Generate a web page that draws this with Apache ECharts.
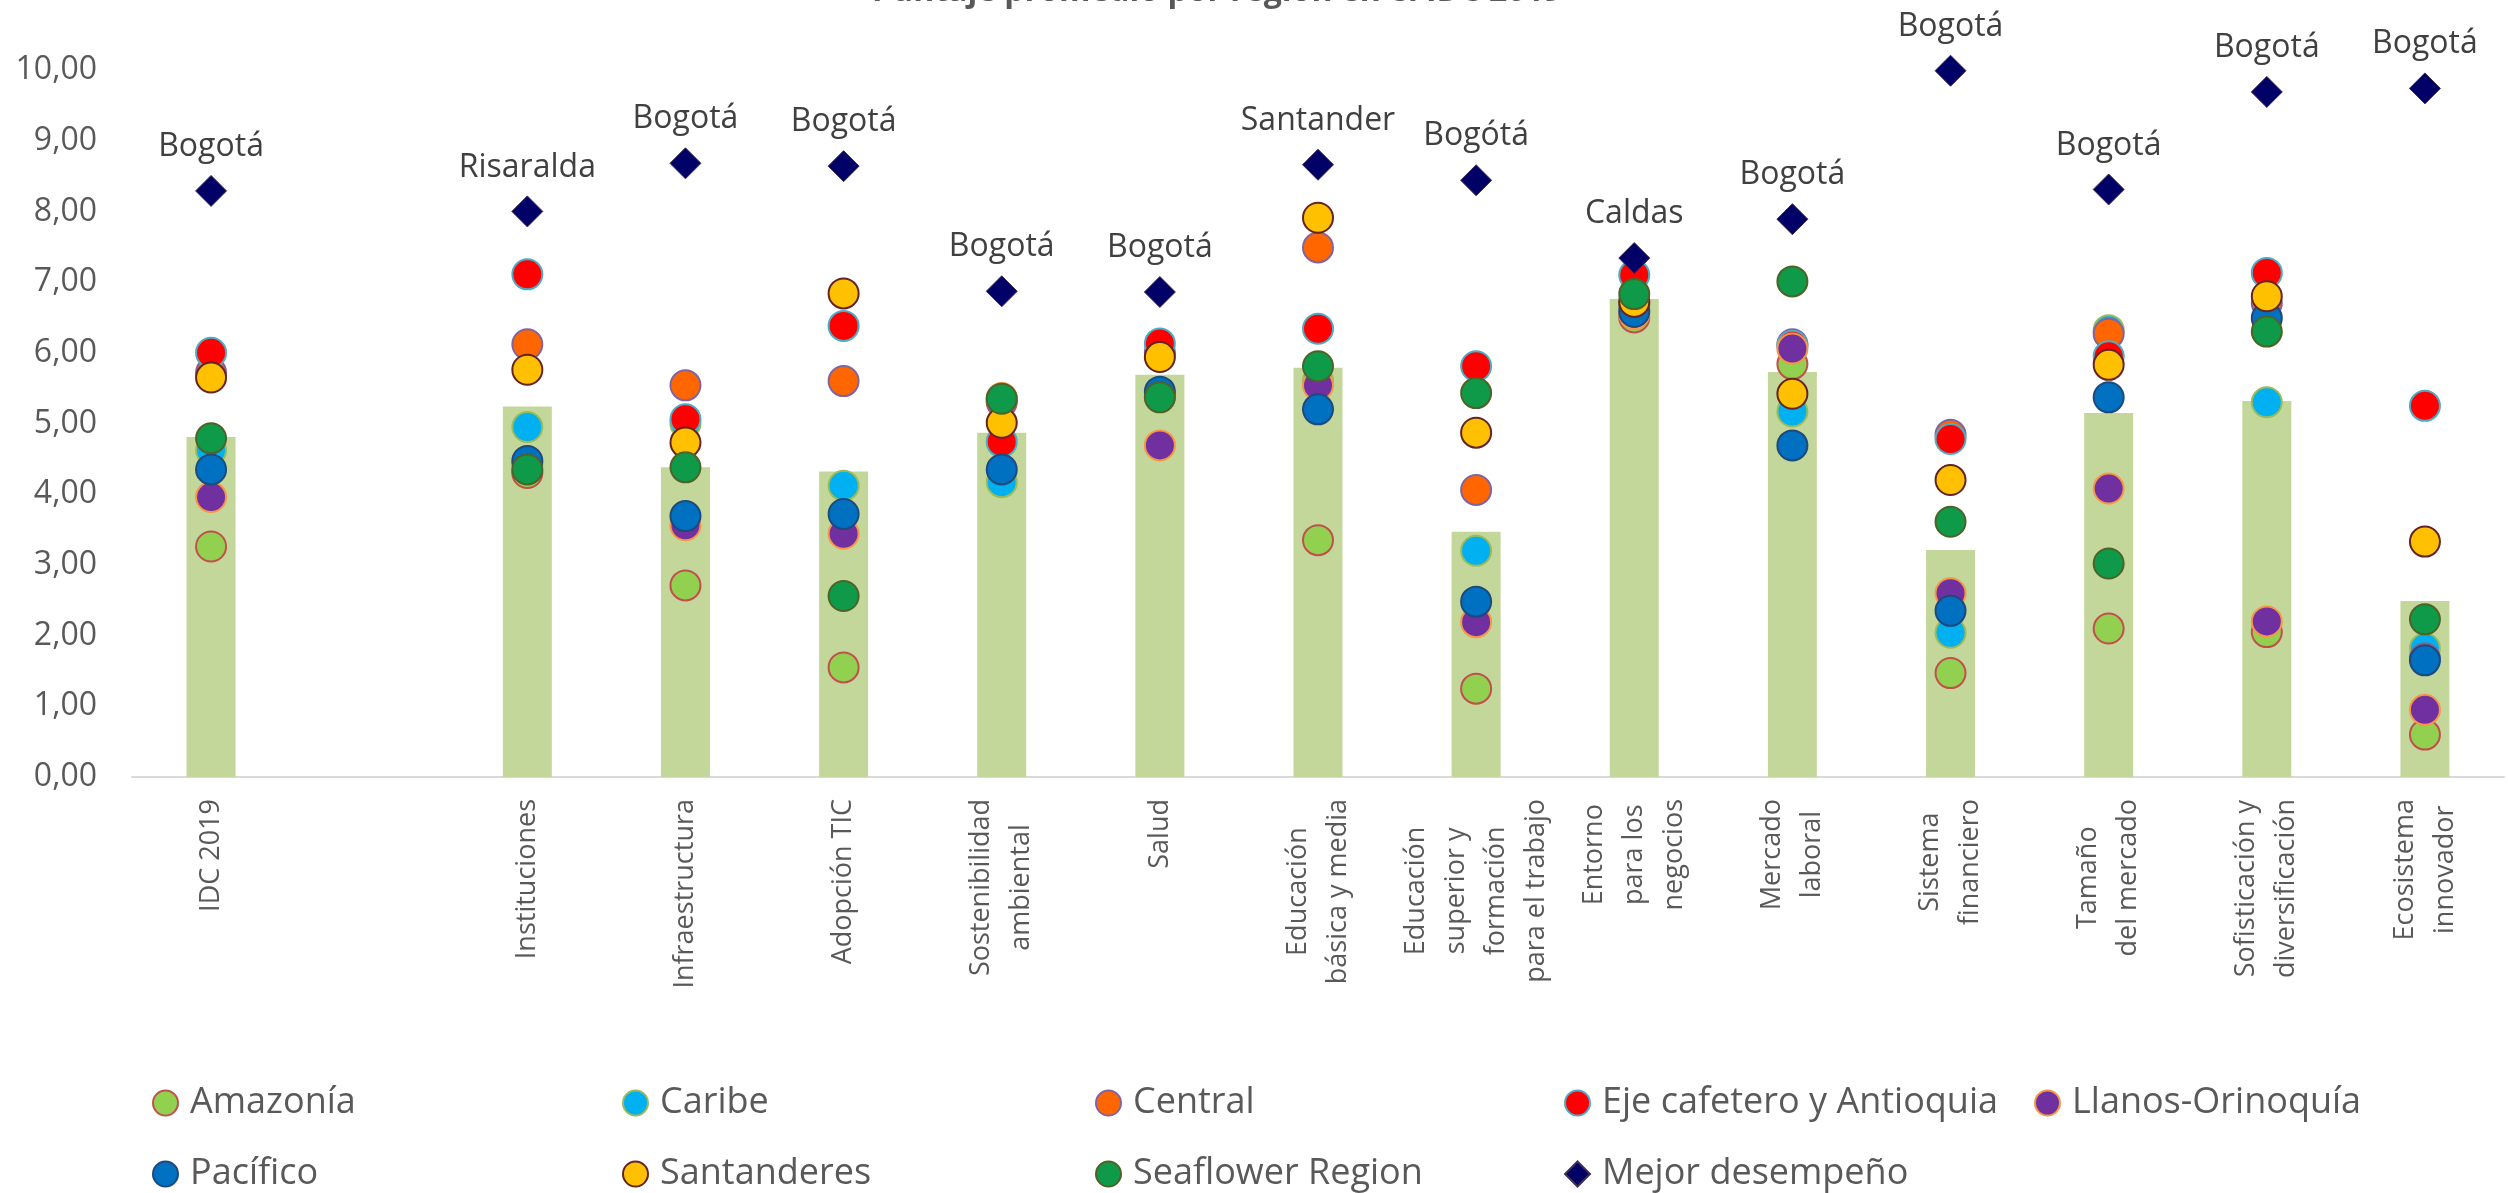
<!DOCTYPE html>
<html>
<head>
<meta charset="utf-8">
<script src="https://cdn.jsdelivr.net/npm/echarts@6/dist/echarts.min.js"></script>
<style>
  html, body { margin: 0; padding: 0; background: #fff; }
  #chart_idc { width: 2508px; height: 1193px; }
</style>
</head>
<body>
<div id="chart_idc"></div>
<script>
var categorias = ['IDC 2019', '', 'Instituciones', 'Infraestructura', 'Adopción TIC',
  'Sostenibilidad\nambiental', 'Salud', 'Educación\nbásica y media',
  'Educación\nsuperior y\nformación\npara el trabajo', 'Entorno\npara los\nnegocios',
  'Mercado\nlaboral', 'Sistema\nfinanciero', 'Tamaño\ndel mercado',
  'Sofisticación y\ndiversificación', 'Ecosistema\ninnovador'];

// promedio nacional (barras)
var promedio    = [4.81, '-', 5.24, 4.38, 4.32, 4.87, 5.69, 5.79, 3.47, 6.76, 5.73, 3.21, 5.15, 5.32, 2.49];

var amazonia    = [3.26, '-', 4.30, 2.71, 1.55, 5.30, 5.38, 3.35, 1.25, 6.50, 5.84, 1.47, 2.10, 2.05, 0.60];
var caribe      = [4.62, '-', 4.95, 5.00, 4.12, 4.17, 5.42, 5.60, 3.20, 6.62, 5.17, 2.04, 6.32, 5.30, 1.82];
var central     = [5.72, '-', 6.12, 5.54, 5.60, 5.33, 6.00, 7.49, 4.06, 6.68, 6.12, 4.84, 6.27, 6.70, 1.68];
var ejeCafetero = [6.00, '-', 7.11, 5.06, 6.38, 4.74, 6.13, 6.34, 5.81, 7.10, 6.10, 4.78, 5.95, 7.13, 5.25];
var llanos      = [3.96, '-', 4.42, 3.56, 3.44, 5.36, 4.69, 5.54, 2.19, 6.55, 6.06, 2.60, 4.08, 2.20, 0.95];
var pacifico    = [4.35, '-', 4.47, 3.69, 3.72, 4.35, 5.45, 5.20, 2.48, 6.58, 4.69, 2.35, 5.37, 6.49, 1.65];
var santanderes = [5.65, '-', 5.76, 4.73, 6.84, 5.01, 5.94, 7.91, 4.87, 6.72, 5.42, 4.20, 5.83, 6.80, 3.33];
var seaflower   = [4.79, '-', 4.35, 4.38, 2.56, 5.35, 5.37, 5.81, 5.43, 6.83, 7.01, 3.61, 3.02, 6.30, 2.23];

var mejor       = [8.29, '-', 8.00, 8.68, 8.64, 6.87, 6.86, 8.66, 8.44, 7.34, 7.89, 9.99, 8.31, 9.69, 9.74];
var mejorDepto  = ['Bogotá', '', 'Risaralda', 'Bogotá', 'Bogotá', 'Bogotá', 'Bogotá', 'Santander',
  'Bogótá', 'Caldas', 'Bogotá', 'Bogotá', 'Bogotá', 'Bogotá', 'Bogotá'];

var yTicks = [0, 10, 1];

var fuente = "'Open Sans', 'Noto Sans', sans-serif";
var gris = '#595959';

var regiones = [
  { name: 'Amazonía', data: amazonia, fill: '#92D050', borde: '#C0504D' },
  { name: 'Caribe', data: caribe, fill: '#00B0F0', borde: '#9BBB59' },
  { name: 'Central', data: central, fill: '#FF6600', borde: '#8064A2' },
  { name: 'Eje cafetero y Antioquia', data: ejeCafetero, fill: '#FF0000', borde: '#4BACC6' },
  { name: 'Llanos-Orinoquía', data: llanos, fill: '#7030A0', borde: '#F79646' },
  { name: 'Pacífico', data: pacifico, fill: '#0070C0', borde: '#1F497D' },
  { name: 'Santanderes', data: santanderes, fill: '#FFC000', borde: '#632523' },
  { name: 'Seaflower Region', data: seaflower, fill: '#0E9A48', borde: '#4F6228' }
];

var myChartIDC = echarts.init(document.getElementById('chart_idc'));

function pintarIDC(myChart) {
  var series = [{
    name: 'Promedio',
    type: 'bar',
    barWidth: 49,
    itemStyle: { color: '#C4D79B' },
    data: promedio,
    z: 1
  }];

  regiones.forEach(function (r) {
    series.push({
      name: r.name,
      type: 'scatter',
      symbol: 'circle',
      symbolSize: 30,
      itemStyle: { color: r.fill, borderColor: r.borde, borderWidth: 2, opacity: 1 },
      data: r.data,
      z: 3
    });
  });

  series.push({
    name: 'Mejor desempeño',
    type: 'scatter',
    symbol: 'diamond',
    symbolSize: 31,
    itemStyle: { color: '#000066', borderColor: '#403152', borderWidth: 1, opacity: 1 },
    label: {
      show: true,
      position: 'top',
      distance: 12,
      fontFamily: fuente,
      fontSize: 32,
      color: '#404040',
      formatter: function (p) { return mejorDepto[p.dataIndex]; }
    },
    data: mejor,
    z: 4
  });

  // leyenda en 5 columnas, 2 filas
  var nombres = regiones.map(function (r) { return r.name; }).concat(['Mejor desempeño']);
  var colX = [152, 622, 1095, 1564, 2034];
  var rowY = [1085, 1156];
  var leyendas = nombres.map(function (n, i) {
    return {
      data: [n],
      left: colX[i % 5],
      top: rowY[Math.floor(i / 5)],
      orient: 'horizontal',
      padding: 0,
      itemGap: 0,
      itemWidth: 25,
      itemHeight: 25,
      selectedMode: false,
      textStyle: { fontFamily: fuente, fontSize: 36, color: gris, padding: [0, 0, 0, 7] }
    };
  });

  var option = {
    animation: false,
    backgroundColor: '#ffffff',
    title: {
      text: 'Puntaje promedio por región en el IDC 2019',
      left: 872,
      top: -24,
      padding: 0,
      textStyle: { fontFamily: fuente, fontSize: 32, fontWeight: 'bold', color: gris }
    },
    legend: leyendas,
    grid: { left: 132, right: 4, top: 70, bottom: 416, containLabel: false, outerBoundsMode: 'none' },
    xAxis: {
      type: 'category',
      data: categorias,
      axisTick: { show: false },
      axisLine: { show: true, lineStyle: { color: '#D9D9D9', width: 2 } },
      axisLabel: {
        interval: 0,
        rotate: 90,
        margin: 22,
        fontFamily: fuente,
        fontSize: 27,
        color: gris,
        lineHeight: 40,
        formatter: function (v) { return v ? '{c|' + v + '}' : ''; },
        rich: {
          c: { align: 'center', fontFamily: fuente, fontSize: 27, color: gris, lineHeight: 40 }
        }
      }
    },
    yAxis: {
      type: 'value',
      min: yTicks[0],
      max: yTicks[1],
      interval: yTicks[2],
      splitLine: { show: false },
      axisLine: { show: false },
      axisTick: { show: false },
      axisLabel: {
        margin: 35,
        fontFamily: fuente,
        fontSize: 32,
        color: gris,
        formatter: function (v) { return v.toFixed(2).replace('.', ','); }
      }
    },
    series: series
  };

  myChart.setOption(option);
}

pintarIDC(myChartIDC);
</script>
</body>
</html>
